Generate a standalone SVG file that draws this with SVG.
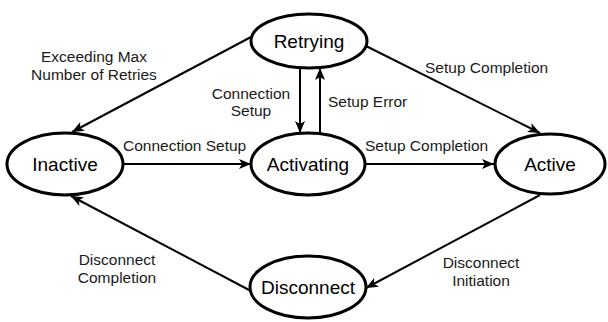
<svg xmlns="http://www.w3.org/2000/svg" width="608" height="322" viewBox="0 0 608 322">
  <style>
    .state ellipse { fill: #ffffff; stroke: #000000; stroke-width: 3; }
    .state text { font-family: "Liberation Sans", Arial, Helvetica, sans-serif; font-size: 19px; fill: #000000; text-anchor: middle; }
    .edge { stroke: #000000; stroke-width: 2; fill: none; marker-end: url(#arrow); }
    .lbl { font-family: "Liberation Sans", Arial, Helvetica, sans-serif; font-size: 15.5px; fill: #1a1a1a; }
    .mid { text-anchor: middle; }
  </style>
  <defs>
    <marker id="arrow" viewBox="0 0 12 10" refX="12" refY="5" markerWidth="12" markerHeight="10" markerUnits="userSpaceOnUse" orient="auto">
      <path d="M0,0 L12,5 L0,10 L3,5 z" fill="#000000"/>
    </marker>
  </defs>

  <rect width="608" height="322" fill="#ffffff"/>

  <!-- transitions -->
  <g id="connectors">
    <line class="edge" x1="251" y1="37" x2="72" y2="132"/>
    <line class="edge" x1="364" y1="45" x2="540" y2="133"/>
    <line class="edge" x1="300" y1="68" x2="300" y2="133"/>
    <line class="edge" x1="320" y1="133" x2="320" y2="68"/>
    <line class="edge" x1="123" y1="164" x2="251" y2="164"/>
    <line class="edge" x1="365" y1="164" x2="494" y2="164"/>
    <line class="edge" x1="540" y1="195" x2="366" y2="288"/>
    <line class="edge" x1="251" y1="291" x2="71" y2="196"/>
  </g>

  <!-- transition labels -->
  <g id="labels">
    <text class="lbl mid" x="94" y="62">Exceeding Max</text>
    <text class="lbl mid" x="94" y="80">Number of Retries</text>
    <text class="lbl mid" x="251" y="99">Connection</text>
    <text class="lbl mid" x="251" y="116">Setup</text>
    <text class="lbl" x="328" y="107">Setup Error</text>
    <text class="lbl" x="425" y="73">Setup Completion</text>
    <text class="lbl" x="123" y="151">Connection Setup</text>
    <text class="lbl" x="365" y="151">Setup Completion</text>
    <text class="lbl mid" x="117" y="265">Disconnect</text>
    <text class="lbl mid" x="117" y="283">Completion</text>
    <text class="lbl mid" x="481" y="268">Disconnect</text>
    <text class="lbl mid" x="481" y="286">Initiation</text>
  </g>

  <!-- states -->
  <g id="retrying" class="state">
    <ellipse cx="309" cy="41" rx="58" ry="27"/>
    <text x="309" y="48">Retrying</text>
  </g>
  <g id="inactive" class="state">
    <ellipse cx="65" cy="164" rx="58" ry="31"/>
    <text x="65" y="171">Inactive</text>
  </g>
  <g id="activating" class="state">
    <ellipse cx="308" cy="164" rx="57" ry="31"/>
    <text x="308" y="171">Activating</text>
  </g>
  <g id="active" class="state">
    <ellipse cx="550" cy="164" rx="55" ry="30"/>
    <text x="550" y="171">Active</text>
  </g>
  <g id="disconnect" class="state">
    <ellipse cx="308" cy="287" rx="58" ry="31"/>
    <text x="308" y="294">Disconnect</text>
  </g>
</svg>
